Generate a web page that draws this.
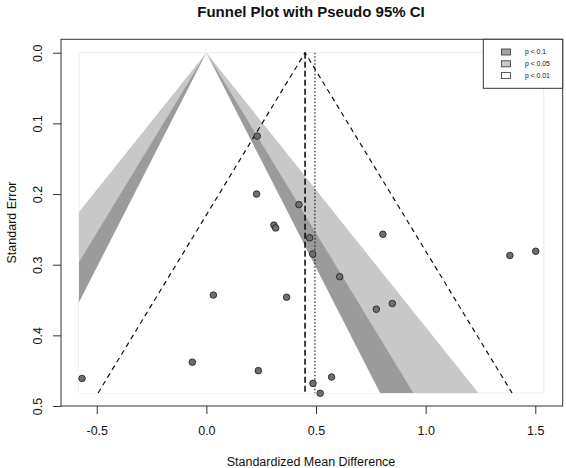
<!DOCTYPE html>
<html>
<head>
<meta charset="utf-8">
<script src="https://cdn.jsdelivr.net/npm/d3@7"></script>
<style>
  html, body { margin: 0; padding: 0; background: #fff; }
  svg { display: block; font-family: "Liberation Sans", Arial, sans-serif; }
</style>
</head>
<body>
<svg id="funnel" width="566" height="468"></svg>
<script>
// study effects (standardized mean difference) and their standard errors
const smd = [0.232, 0.229, 0.422, 0.308, 0.316, 0.471, 0.485, 0.608, 0.032, 0.366,
             0.805, 1.384, 1.502, 0.848, 0.775,
             -0.567, -0.064, 0.237, 0.486, 0.519, 0.571];
const se  = [0.118, 0.200, 0.215, 0.244, 0.248, 0.262, 0.285, 0.317, 0.343, 0.346,
             0.257, 0.287, 0.281, 0.355, 0.363,
             0.461, 0.438, 0.450, 0.468, 0.482, 0.459];

const xTicks = [-0.5, 0, 0.5, 1, 1.5];
const xTickLabels = ["-0.5", "0.0", "0.5", "1.0", "1.5"];
const yTicks = [0, 0.1, 0.2, 0.3, 0.4, 0.5];
const yTickLabels = ["0.0", "0.1", "0.2", "0.3", "0.4", "0.5"];

// contour z values (99%, 95%, 90%) drawn outer -> inner
const contourZ = [2.576, 1.96, 1.645];
const contourFill = ["#c8c8c8", "#9b9b9b", "#ffffff"];

const legendLabels = ["p < 0.1", "p < 0.05", "p < 0.01"];
const legendFill = ["#a2a2a2", "#cacaca", "#ffffff"];

const pooledEst = 0.45;     // dashed line + pseudo CI funnel
const adjustedEst = 0.495;  // dotted line
const seMax = 0.4816;
const regionX = [-0.581, 1.539];

const d3v = window.d3;
const svg = d3v.select("#funnel");
const W = 566, H = 468;
const margin = { top: 39.3, right: 3.3, bottom: 62, left: 61 };

const x = d3v.scaleLinear()
  .domain([-0.663, 1.625])
  .range([margin.left, W - margin.right]);

const y = d3v.scaleLinear()
  .domain([-0.019, 0.5])
  .range([margin.top, H - margin.bottom]);

// ===== CLIP (data region) =====
svg.append("defs").append("clipPath")
  .attr("id", "region")
  .append("rect")
  .attr("x", x(regionX[0]))
  .attr("y", y(0))
  .attr("width", x(regionX[1]) - x(regionX[0]))
  .attr("height", y(seMax) - y(0));

// faint region border
svg.append("rect")
  .attr("x", x(regionX[0]))
  .attr("y", y(0))
  .attr("width", x(regionX[1]) - x(regionX[0]))
  .attr("height", y(seMax) - y(0))
  .attr("fill", "none")
  .attr("stroke", "#ececec");

// ===== CONTOURS =====
const gc = svg.append("g").attr("clip-path", "url(#region)");
contourZ.forEach((z, i) => {
  const pts = [[0, 0], [-z * seMax, seMax], [z * seMax, seMax]];
  gc.append("path")
    .attr("d", "M" + pts.map(p => `${x(p[0])},${y(p[1])}`).join("L") + "Z")
    .attr("fill", contourFill[i]);
});

// ===== PSEUDO 95% CI =====
const gl = svg.append("g").attr("fill", "none").attr("stroke", "#111");
gl.append("path")
  .attr("d", `M${x(pooledEst - 1.96 * seMax)},${y(seMax)}L${x(pooledEst)},${y(0)}L${x(pooledEst + 1.96 * seMax)},${y(seMax)}`)
  .attr("stroke-width", 1.2)
  .attr("stroke-dasharray", "5,4");

gl.append("line")
  .attr("x1", x(pooledEst)).attr("x2", x(pooledEst))
  .attr("y1", y(0)).attr("y2", y(seMax))
  .attr("stroke-width", 1.6)
  .attr("stroke-dasharray", "6,3");

gl.append("line")
  .attr("x1", x(adjustedEst)).attr("x2", x(adjustedEst))
  .attr("y1", y(0)).attr("y2", y(seMax))
  .attr("stroke-width", 1.1)
  .attr("stroke-dasharray", "1.5,2");

// ===== POINTS =====
svg.append("g")
  .selectAll("circle")
  .data(smd.map((v, i) => ({ v, s: se[i] })))
  .enter()
  .append("circle")
  .attr("cx", d => x(d.v))
  .attr("cy", d => y(d.s))
  .attr("r", 3.3)
  .attr("fill", "#6e6e6e")
  .attr("stroke", "#1c1c1c")
  .attr("stroke-width", 0.8);

// ===== AXES =====
svg.append("g")
  .attr("transform", `translate(0,${H - margin.bottom})`)
  .call(d3v.axisBottom(x).tickValues(xTicks).tickSize(8).tickPadding(12.5)
    .tickFormat((d, i) => xTickLabels[i]));

const gy = svg.append("g")
  .attr("transform", `translate(${margin.left},0)`)
  .call(d3v.axisLeft(y).tickValues(yTicks).tickSize(8)
    .tickFormat((d, i) => yTickLabels[i]));

gy.selectAll(".tick text")
  .attr("x", 0).attr("dy", null)
  .attr("text-anchor", "middle")
  .attr("transform", "translate(-19,0) rotate(-90)");

svg.selectAll(".domain").remove();
svg.selectAll(".tick line").attr("stroke", "#333");
svg.selectAll(".tick text")
  .attr("fill", "#111")
  .attr("font-size", 12.5)
  .attr("font-family", "Liberation Sans, Arial, sans-serif");

// plot box
svg.append("rect")
  .attr("x", margin.left)
  .attr("y", margin.top)
  .attr("width", W - margin.right - margin.left)
  .attr("height", H - margin.bottom - margin.top)
  .attr("fill", "none")
  .attr("stroke", "#333");

// ===== TITLES =====
svg.append("text")
  .attr("x", 311).attr("y", 17)
  .attr("text-anchor", "middle")
  .attr("font-size", 15)
  .attr("font-weight", "bold")
  .attr("fill", "#111")
  .text("Funnel Plot with Pseudo 95% CI");

svg.append("text")
  .attr("x", 311).attr("y", 466)
  .attr("text-anchor", "middle")
  .attr("font-size", 12.5)
  .attr("fill", "#111")
  .text("Standardized Mean Difference");

svg.append("text")
  .attr("transform", "translate(16,222.5) rotate(-90)")
  .attr("text-anchor", "middle")
  .attr("font-size", 12.5)
  .attr("fill", "#111")
  .text("Standard Error");

// ===== LEGEND =====
const lg = svg.append("g");
lg.append("rect")
  .attr("x", 483.3).attr("y", margin.top)
  .attr("width", W - margin.right - 483.3).attr("height", 49)
  .attr("fill", "#fff").attr("stroke", "#333");

legendLabels.forEach((lab, i) => {
  const cy = 52 + i * 11.8;
  lg.append("rect")
    .attr("x", 501.5).attr("y", cy - 3)
    .attr("width", 9).attr("height", 6)
    .attr("fill", legendFill[i]).attr("stroke", "#333").attr("stroke-width", 0.8);
  lg.append("text")
    .attr("x", 525).attr("y", cy + 2.3)
    .attr("font-size", 6.8)
    .attr("fill", "#111")
    .text(lab);
});
</script>
</body>
</html>
